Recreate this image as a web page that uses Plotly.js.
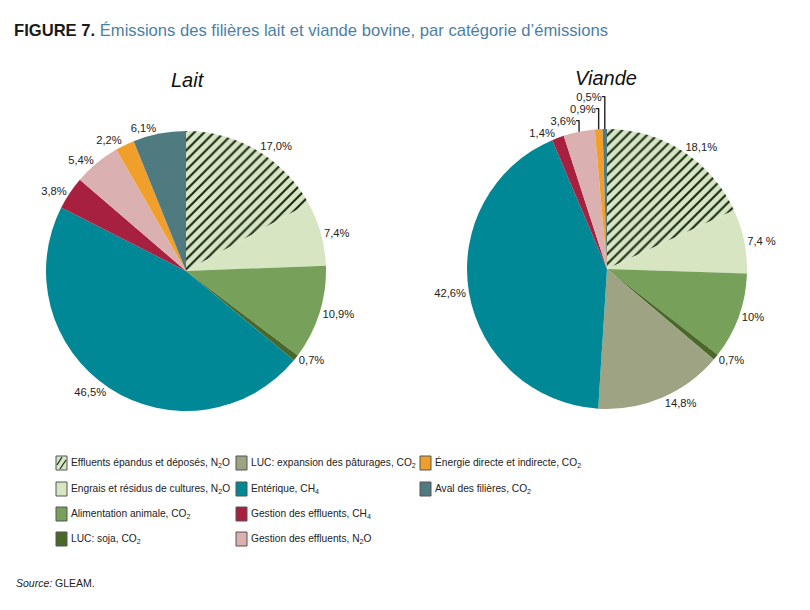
<!DOCTYPE html>
<html>
<head>
<meta charset="utf-8">
<script src="https://cdn.plot.ly/plotly-3.0.1.min.js"></script>
<style>html,body{margin:0;padding:0;background:#fff;}#chart{width:810px;height:610px;}</style>
</head>
<body>
<div id="chart"></div>
<script>
// ---- Data ----
var categories = [
  "Effluents épandus et déposés, N<sub>2</sub>O",
  "Engrais et résidus de cultures, N<sub>2</sub>O",
  "Alimentation animale, CO<sub>2</sub>",
  "LUC: soja, CO<sub>2</sub>",
  "LUC: expansion des pâturages, CO<sub>2</sub>",
  "Entérique, CH<sub>4</sub>",
  "Gestion des effluents, CH<sub>4</sub>",
  "Gestion des effluents, N<sub>2</sub>O",
  "Énergie directe et indirecte, CO<sub>2</sub>",
  "Aval des filières, CO<sub>2</sub>"
];
var laitValues   = [17.0, 7.4, 10.9, 0.7, 0, 46.5, 3.8, 5.4, 2.2, 6.1];
var viandeValues = [18.1, 7.4, 10.0, 0.7, 14.8, 42.6, 1.4, 3.6, 0.9, 0.5];
var laitLabels   = ["17,0%", "7,4%", "10,9%", "0,7%", "", "46,5%", "3,8%", "5,4%", "2,2%", "6,1%"];
var viandeLabels = ["18,1%", "7,4 %", "10%", "0,7%", "14,8%", "42,6%", "1,4%", "3,6%", "0,9%", "0,5%"];
var pieTitles = ["Lait", "Viande"];

// ---- Styles ----
var colors = ["#d6e5c3", "#d7e5c3", "#77a05a", "#4b682b", "#9da383", "#008896", "#a82040", "#dbb0b1", "#f0a02a", "#4f7b80"];
var patternShapes = ["/", "", "", "", "", "", "", "", "", ""];

var W = 810, H = 610;
function px(x) { return x / W; }
function py(y) { return 1 - y / H; }

function pieTrace(vals, txt, cx, cy, r) {
  return {
    type: "pie",
    values: vals,
    labels: categories,
    text: txt,
    textinfo: "text",
    textposition: "outside",
    sort: false,
    direction: "clockwise",
    rotation: 0,
    showlegend: false,
    hoverinfo: "label+percent",
    outsidetextfont: {family: "Liberation Sans, Arial, sans-serif", size: 11.2, color: "#222"},
    marker: {
      colors: colors,
      line: {width: 0},
      pattern: {shape: patternShapes, fgcolor: "#1b2a12", bgcolor: colors, size: 7, solidity: 0.3}
    },
    domain: {x: [px(cx - r), px(cx + r)], y: [py(cy + r), py(cy - r)]}
  };
}

var data = [
  pieTrace(laitValues, laitLabels, 186, 271, 140),
  pieTrace(viandeValues, viandeLabels, 607, 269, 140)
];

// ---- Custom legend (3 columns, column-major) ----
var legendCols = [[0, 1, 2, 3], [4, 5, 6, 7], [8, 9]];
var colX = [56, 236, 420];
var rowY = [463, 489, 514, 539];
var shapes = [], annotations = [];
legendCols.forEach(function (col, ci) {
  col.forEach(function (k, ri) {
    var x0 = colX[ci], y0 = rowY[ri] - 7, x1 = x0 + 11, y1 = rowY[ri] + 7;
    shapes.push({type: "rect", xref: "paper", yref: "paper",
      x0: px(x0), x1: px(x1), y0: py(y1), y1: py(y0),
      fillcolor: colors[k], line: {color: "#555", width: 1}});
    if (patternShapes[k] === "/") {
      [[x0 + 1, y1 - 5, x0 + 6, y0 + 1], [x0 + 4, y1 - 1, x1 - 1, y0 + 4]].forEach(function (s) {
        shapes.push({type: "line", xref: "paper", yref: "paper",
          x0: px(s[0]), y0: py(s[1]), x1: px(s[2]), y1: py(s[3]),
          line: {color: "#1b2a12", width: 1.2}});
      });
    }
    annotations.push({xref: "paper", yref: "paper", x: px(x1 + 2), y: py(rowY[ri]),
      xanchor: "left", yanchor: "middle", showarrow: false, text: categories[k],
      font: {family: "Liberation Sans, Arial, sans-serif", size: 10.2, color: "#222"}});
  });
});

// Pie titles
[[188, 80], [606, 78]].forEach(function (p, i) {
  annotations.push({xref: "paper", yref: "paper", x: px(p[0]), y: py(p[1]),
    xanchor: "center", yanchor: "middle", showarrow: false, text: "<i>" + pieTitles[i] + "</i>",
    font: {family: "Liberation Sans, Arial, sans-serif", size: 20, color: "#111"}});
});

// Figure title
annotations.push({xref: "paper", yref: "paper", x: px(12), y: py(30),
  xanchor: "left", yanchor: "middle", showarrow: false,
  text: "<b>FIGURE 7.</b> <span style='color:#4b7fa6'>Émissions des filières lait et viande bovine, par catégorie d’émissions</span>",
  font: {family: "Liberation Sans, Arial, sans-serif", size: 16.6, color: "#1a1a1a"}});

// Source
annotations.push({xref: "paper", yref: "paper", x: px(14), y: py(583),
  xanchor: "left", yanchor: "middle", showarrow: false,
  text: "<i>Source:</i> GLEAM.",
  font: {family: "Liberation Sans, Arial, sans-serif", size: 10.5, color: "#222"}});

var layout = {
  width: W, height: H,
  margin: {l: 0, r: 0, t: 0, b: 0},
  paper_bgcolor: "#fff",
  showlegend: false,
  shapes: shapes,
  annotations: annotations
};

Plotly.newPlot("chart", data, layout, {displayModeBar: false, staticPlot: true});
</script>
</body>
</html>
